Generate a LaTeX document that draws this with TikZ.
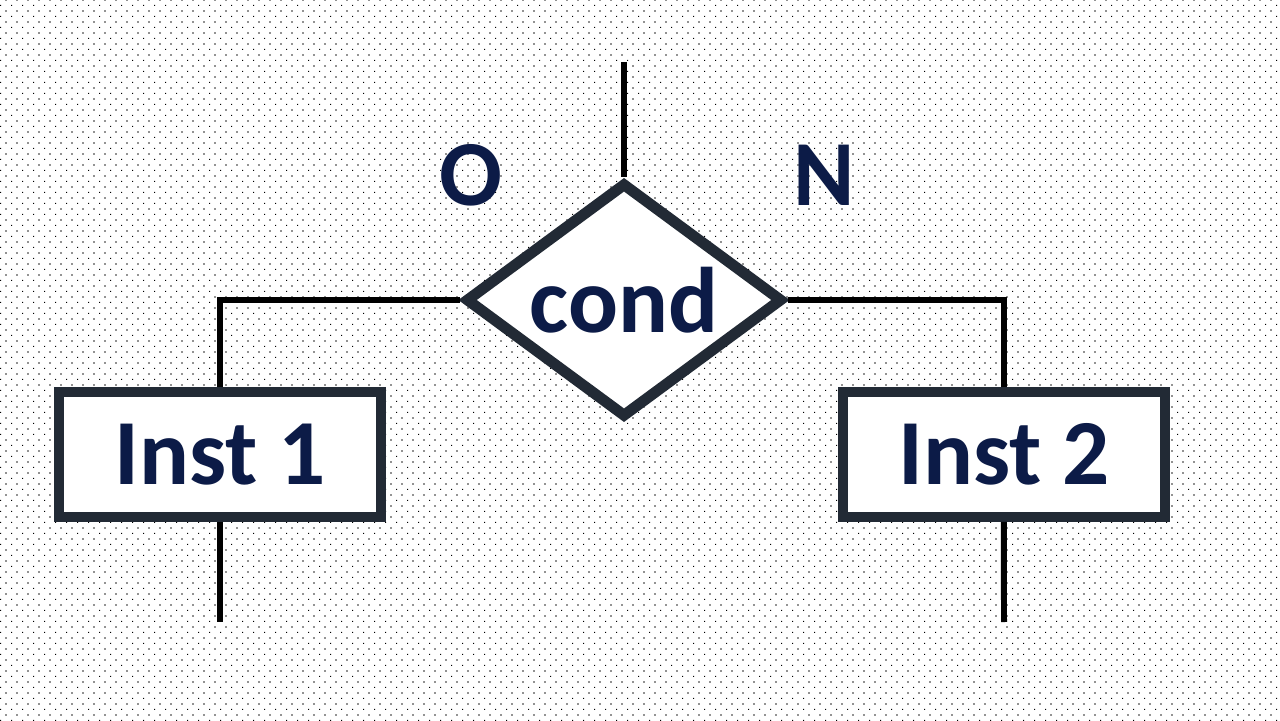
\documentclass[tikz,border=0pt]{standalone}
\usepackage{fontspec}
\setmainfont{Carlito}
\usepackage{tikz}
\usetikzlibrary{positioning,shapes.geometric,patterns,shadows}
\definecolor{SlideNavy}{HTML}{0C1B47}
\definecolor{SlideSlate}{HTML}{222A35}
\pgfdeclarepatternformonly{bgdots}{\pgfqpoint{0pt}{0pt}}{\pgfqpoint{6.26pt}{6.26pt}}{\pgfqpoint{6.26pt}{6.26pt}}{%
  \pgfpathrectangle{\pgfqpoint{0pt}{0pt}}{\pgfqpoint{0.65pt}{0.65pt}}%
  \pgfpathrectangle{\pgfqpoint{3.13pt}{3.13pt}}{\pgfqpoint{0.65pt}{0.65pt}}%
  \pgfusepath{fill}}

\begin{document}
\begin{tikzpicture}[x=0.02cm, y=0.02cm, node distance=9.04cm,
                    every node/.style={text=SlideNavy, inner sep=0pt,
                                       font=\fontsize{53}{60}\selectfont\bfseries},
                    every path/.style={line width=3.4pt},
                    shade/.style={drop shadow={shadow xshift=-0.07cm, shadow yshift=-0.07cm,
                                               fill=black, opacity=0.25}},
                    box/.style={draw=SlideSlate, line width=5.7pt, fill=white, shade,
                                minimum width=6.44cm, minimum height=2.5cm},
                    test/.style={diamond, aspect=1.36, draw=SlideSlate, line width=6.2pt,
                                 fill=white, shade, minimum width=6.35cm, minimum height=4.7cm}]
\useasboundingbox (0,0) rectangle (1280,720);
\fill[white] (0,0) rectangle (1280,720);
\fill[pattern=bgdots, pattern color=black] (0,0) rectangle (1280,720);
% decision and branches
\node[test] (cond) at (624,420) {cond};
\node[box] (inst1) at (220,265.5) {Inst 1};
\node[box, right=of inst1] (inst2) {Inst 2};
\node (lblO) at (471,545) {O};
\node (lblN) at (824,545) {N};
\coordinate (top) at (624,658);
\coordinate (out1) at (220,98);
\coordinate (out2) at (1004,98);
\draw (top) -- (cond.north);
\draw (cond.west) -| (inst1.north);
\draw (cond.east) -| (inst2.north);
\draw (inst1.south) -- (out1);
\draw (inst2.south) -- (out2);
\end{tikzpicture}
\end{document}
